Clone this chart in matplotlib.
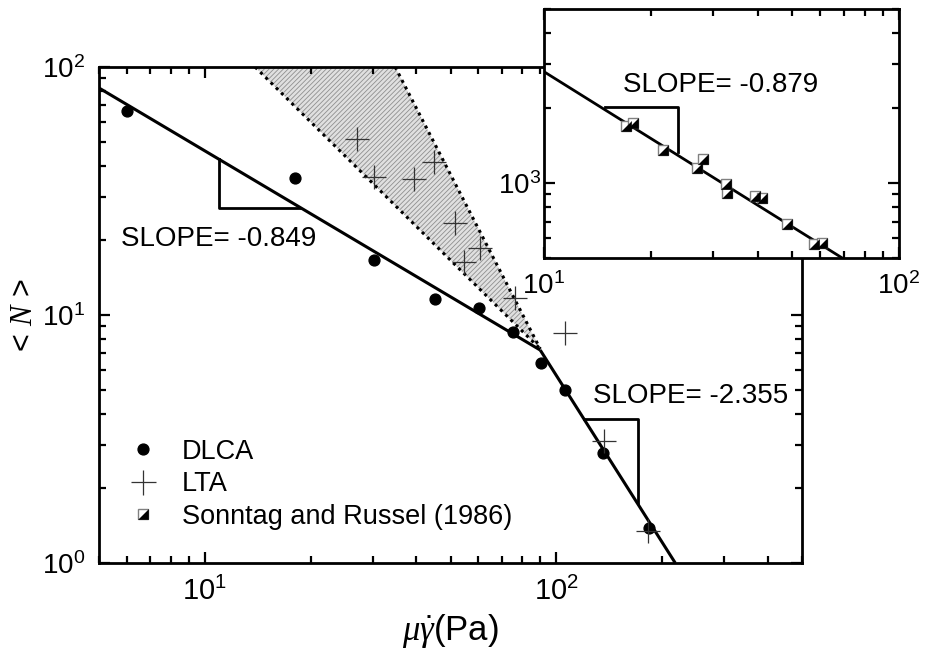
import matplotlib
matplotlib.use('Agg')
import matplotlib.pyplot as plt
import numpy as np
from matplotlib.ticker import LogLocator, NullFormatter
from matplotlib.legend_handler import HandlerTuple
from matplotlib.lines import Line2D

plt.rcParams['font.family'] = ['Liberation Sans', 'DejaVu Sans']
plt.rcParams['mathtext.fontset'] = 'custom'
plt.rcParams['mathtext.rm'] = 'Liberation Sans'
plt.rcParams['mathtext.it'] = 'Liberation Serif:italic'
plt.rcParams['mathtext.bf'] = 'Liberation Sans:bold'
plt.rcParams['hatch.linewidth'] = 0.6

# ---------------- data ----------------
dlca_x = [6.0, 18.0, 30.3, 45.2, 60.4, 75.4, 90.6, 106, 136, 183]
dlca_y = [66.5, 35.7, 16.7, 11.6, 10.7, 8.53, 6.40, 4.99, 2.78, 1.38]

lta_x = [27.1, 30.3, 39.4, 44.9, 51.5, 54.7, 60.7, 76.4, 106, 137, 182]
lta_y = [51.3, 36.0, 35.3, 41.4, 23.5, 16.4, 18.6, 11.7, 8.45, 3.10, 1.35]

fit1_x = [5.0, 90.0]
fit1_y = [82.3, 7.22]
fit2_x = [90.0, 218.0]
fit2_y = [7.22, 1.0]

band_left_x = [13.9, 90.0]
band_left_y = [100.0, 7.3]
band_right_x = [34.8, 90.0]
band_right_y = [100.0, 7.3]

slope1_x = [10.96, 10.96, 18.6]
slope1_y = [42.4, 27.0, 27.0]
slope2_x = [120, 171, 171]
slope2_y = [3.82, 3.82, 1.74]

sr_x = [17.0, 17.8, 21.7, 26.9, 28.0, 32.5, 32.7, 39.2, 41.2, 48.5, 57.7, 60.8]
sr_y = [1691, 1738, 1358, 1151, 1250, 994, 913, 890, 873, 682, 568, 573]
sr_fit_x = [10.0, 69.2]
sr_fit_y = [2800, 500]
sr_slope_x = [14.9, 23.8, 23.8]
sr_slope_y = [2014, 2014, 1332]

labels = ['DLCA', 'LTA', 'Sonntag and Russel (1986)']
slope_texts = ['SLOPE= -0.849', 'SLOPE= -2.355', 'SLOPE= -0.879']

# ---------------- figure ----------------
fig = plt.figure(figsize=(9.25, 6.52), dpi=100)
ax = fig.add_axes([99/925, (652-563)/652, 703/925, 496/652])
ins = fig.add_axes([544/925, (652-258)/652, 355/925, 249/652])
ins.set_zorder(5)
ins.set_facecolor('white')

half_tri = [(1, 1), (1, -1), (-1, -1)]

# shaded band
ax.fill([band_left_x[0], band_right_x[0], band_right_x[1]],
        [band_left_y[0], band_right_y[0], band_right_y[1]],
        facecolor='#e0e0e0', edgecolor='#8f8f8f', hatch='///////',
        linewidth=0, zorder=1)
ax.plot(band_left_x, band_left_y, color='black', ls=(0, (1, 1.4)), lw=2.2, zorder=2)
ax.plot(band_right_x, band_right_y, color='black', ls=(0, (1, 1.4)), lw=2.2, zorder=2)

# fit lines and slope triangles
ax.plot(fit1_x, fit1_y, color='black', lw=2.2, zorder=3, solid_capstyle='butt')
ax.plot(fit2_x, fit2_y, color='black', lw=2.2, zorder=3, solid_capstyle='butt')
ax.plot(slope1_x, slope1_y, color='black', lw=2.0, zorder=3)
ax.plot(slope2_x, slope2_y, color='black', lw=2.0, zorder=3)

# points
ax.plot(dlca_x, dlca_y, 'o', color='black', ms=7.8, zorder=4)
ax.plot(lta_x, lta_y, '+', color='#333333', ms=17, mew=0.9, zorder=4)

ax.text(0.031, 0.640, slope_texts[0], transform=ax.transAxes, fontsize=20, va='baseline')
ax.text(0.702, 0.322, slope_texts[1], transform=ax.transAxes, fontsize=20, va='baseline')

ax.set_xscale('log')
ax.set_yscale('log')
ax.set_xlim(5, 500)
ax.set_ylim(1, 100)

# legend
h1 = Line2D([], [], ls='none', marker='o', color='black', ms=7.8)
h2 = Line2D([], [], ls='none', marker='+', color='#333333', ms=18, mew=0.9)
h3a = Line2D([], [], ls='none', marker='s', mfc='white', mec='#808080', mew=1, ms=7)
h3b = Line2D([], [], ls='none', marker=half_tri, mfc='black', mec='black', mew=0.5, ms=7)
ax.legend([h1, h2, (h3a, h3b)], labels, handler_map={tuple: HandlerTuple(ndivide=1)},
          loc='upper left', bbox_to_anchor=(0.018, 0.272), borderaxespad=0,
          frameon=False, fontsize=19.5, labelspacing=0.24, handletextpad=0.7,
          handlelength=1.5)

ax.set_xlabel(r'$\mu\dot{\gamma}$(Pa)', fontsize=25)
ax.xaxis.set_label_coords(0.5, -0.098)
ax.set_ylabel(r'< $N$ >', fontsize=22)
ax.yaxis.set_label_coords(-0.085, 0.5)

# inset
ins.plot(sr_fit_x, sr_fit_y, color='black', lw=2.0, zorder=2)
ins.plot(sr_slope_x, sr_slope_y, color='black', lw=2.0, zorder=2)
ins.plot(sr_x, sr_y, ls='none', marker='s', mfc='white', mec='#808080', mew=1, ms=7, zorder=3)
ins.plot(sr_x, sr_y, ls='none', marker=half_tri, mfc='black', mec='black', mew=0.5, ms=7, zorder=4)
ins.text(0.222, 0.665, slope_texts[2], transform=ins.transAxes, fontsize=20, va='baseline')
ins.set_xscale('log')
ins.set_yscale('log')
ins.set_xlim(10, 100)
ins.set_ylim(500, 5000)

for a in (ax, ins):
    a.xaxis.set_major_locator(LogLocator(base=10, numticks=20))
    a.yaxis.set_major_locator(LogLocator(base=10, numticks=20))
    a.xaxis.set_minor_locator(LogLocator(base=10, subs=np.arange(2, 10), numticks=50))
    a.yaxis.set_minor_locator(LogLocator(base=10, subs=np.arange(2, 10), numticks=50))
    a.xaxis.set_minor_formatter(NullFormatter())
    a.yaxis.set_minor_formatter(NullFormatter())
    a.tick_params(which='both', direction='in', top=True, right=True, width=1.6)
    a.tick_params(which='major', length=8)
    a.tick_params(which='minor', length=5)
    for s in a.spines.values():
        s.set_linewidth(2.0)

ax.tick_params(axis='x', which='major', labelsize=21, pad=10)
ax.tick_params(axis='y', which='major', labelsize=20, pad=10)
ins.tick_params(axis='x', which='major', labelsize=20, pad=10)
ins.tick_params(axis='y', which='major', labelsize=20, pad=2)

fig.savefig('out.png', dpi=100)
